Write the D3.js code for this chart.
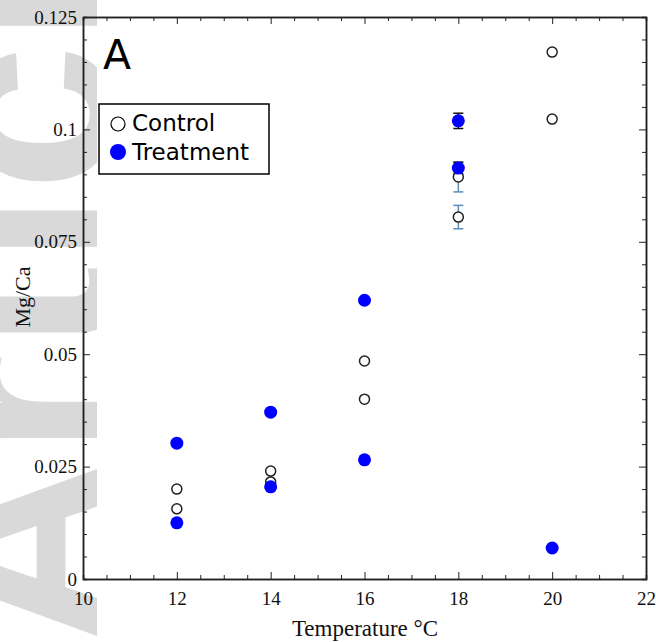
<!DOCTYPE html>
<html>
<head>
<meta charset="utf-8">
<script src="https://cdn.jsdelivr.net/npm/d3@7"></script>
<style>
  body { margin: 0; background: #fff; }
  svg { display: block; }
</style>
</head>
<body>
<svg id="chart" width="656" height="642"></svg>
<script>
// control series
const controlTemp = [12, 12, 14, 14, 16, 16, 18, 18, 20, 20];
const controlMgCa = [0.0200, 0.0156, 0.0240, 0.0216, 0.0485, 0.0400, 0.0894, 0.0805, 0.1172, 0.1023];
const controlErr  = [0, 0, 0, 0, 0, 0, 0.0033, 0.0026, 0, 0];

// treatment series
const treatTemp = [12, 12, 14, 14, 16, 16, 18, 18, 20];
const treatMgCa = [0.0302, 0.0125, 0.0371, 0.0205, 0.0620, 0.0265, 0.1019, 0.0914, 0.0069];
const treatErr  = [0, 0, 0, 0, 0, 0, 0.0017, 0.0013, 0];

const xTicks = [10, 12, 14, 16, 18, 20, 22];
const yTicks = [0, 0.025, 0.05, 0.075, 0.1, 0.125];

const svg = d3.select("#chart");

// watermark in the left margin, clipped like the page margin
svg.append("clipPath").attr("id", "wmclip")
  .append("rect").attr("x", 0).attr("y", 0).attr("width", 97).attr("height", 642);

svg.append("g").attr("clip-path", "url(#wmclip)")
  .append("text")
  .attr("transform", "translate(112,648) rotate(-90)")
  .attr("font-family", "Liberation Sans, Arial, sans-serif")
  .attr("font-weight", "bold")
  .attr("font-size", 265)
  .attr("fill", "#d9d9d9")
  .text("Article");

const x = d3.scaleLinear().domain([10, 22]).range([83, 646]);
const y = d3.scaleLinear().domain([0, 0.125]).range([579, 17]);

const minorX = d3.range(10, 22.01, 0.5).filter(v => v % 2 !== 0);
const minorY = d3.range(0, 0.1251, 0.005).filter(v => Math.abs(v / 0.025 - Math.round(v / 0.025)) > 1e-6);

const fmt = d => String(+d.toFixed(3));

function styleAxis(sel) {
  sel.selectAll(".domain").attr("stroke", "#222").attr("stroke-width", 1.5);
  sel.selectAll(".tick line").attr("stroke", "#222").attr("stroke-width", 1);
  sel.selectAll(".tick text")
    .attr("font-family", "Liberation Serif, Times New Roman, serif")
    .attr("font-size", 19)
    .attr("fill", "#111");
}

// bottom
svg.append("g").attr("transform", `translate(0,${y(0)})`)
  .call(d3.axisBottom(x).tickValues(minorX).tickSize(-4).tickFormat(""))
  .call(styleAxis);
svg.append("g").attr("transform", `translate(0,${y(0)})`)
  .call(d3.axisBottom(x).tickValues(xTicks).tickSizeInner(-7).tickSizeOuter(0).tickPadding(13).tickFormat(fmt))
  .call(styleAxis);

// top
svg.append("g").attr("transform", `translate(0,${y(0.125)})`)
  .call(d3.axisTop(x).tickValues(minorX).tickSize(-4).tickFormat(""))
  .call(styleAxis);
svg.append("g").attr("transform", `translate(0,${y(0.125)})`)
  .call(d3.axisTop(x).tickValues(xTicks).tickSizeInner(-7).tickSizeOuter(0).tickFormat(""))
  .call(styleAxis);

// left
svg.append("g").attr("transform", `translate(${x(10)},0)`)
  .call(d3.axisLeft(y).tickValues(minorY).tickSize(-4).tickFormat(""))
  .call(styleAxis);
svg.append("g").attr("transform", `translate(${x(10)},0)`)
  .call(d3.axisLeft(y).tickValues(yTicks).tickSizeInner(-7).tickSizeOuter(0).tickPadding(6).tickFormat(fmt))
  .call(styleAxis);

// right
svg.append("g").attr("transform", `translate(${x(22)},0)`)
  .call(d3.axisRight(y).tickValues(minorY).tickSize(-4).tickFormat(""))
  .call(styleAxis);
svg.append("g").attr("transform", `translate(${x(22)},0)`)
  .call(d3.axisRight(y).tickValues(yTicks).tickSizeInner(-7).tickSizeOuter(0).tickFormat(""))
  .call(styleAxis);

// axis titles
svg.append("text")
  .attr("x", 365).attr("y", 636)
  .attr("text-anchor", "middle")
  .attr("font-family", "Liberation Serif, Times New Roman, serif")
  .attr("font-size", 23)
  .attr("fill", "#111")
  .text("Temperature \u00B0C");

svg.append("text")
  .attr("transform", "translate(30,297) rotate(-90)")
  .attr("text-anchor", "middle")
  .attr("font-family", "Liberation Serif, Times New Roman, serif")
  .attr("font-size", 22)
  .attr("fill", "#111")
  .text("Mg/Ca");

const control = controlTemp.map((t, i) => ({ t, v: controlMgCa[i], e: controlErr[i] }));
const treat = treatTemp.map((t, i) => ({ t, v: treatMgCa[i], e: treatErr[i] }));

function errorBars(data, color) {
  const g = svg.append("g").attr("stroke", color).attr("stroke-width", 1.5);
  data.filter(d => d.e > 0).forEach(d => {
    g.append("line").attr("x1", x(d.t)).attr("x2", x(d.t)).attr("y1", y(d.v - d.e)).attr("y2", y(d.v + d.e));
    g.append("line").attr("x1", x(d.t) - 5).attr("x2", x(d.t) + 5).attr("y1", y(d.v - d.e)).attr("y2", y(d.v - d.e));
    g.append("line").attr("x1", x(d.t) - 5).attr("x2", x(d.t) + 5).attr("y1", y(d.v + d.e)).attr("y2", y(d.v + d.e));
  });
}

errorBars(control, "#5b8db8");
errorBars(treat, "#111");

svg.append("g").selectAll("circle")
  .data(control).join("circle")
  .attr("cx", d => x(d.t)).attr("cy", d => y(d.v)).attr("r", 5)
  .attr("fill", "#fff").attr("stroke", "#222").attr("stroke-width", 1.5);

svg.append("g").selectAll("circle")
  .data(treat).join("circle")
  .attr("cx", d => x(d.t)).attr("cy", d => y(d.v)).attr("r", 6.5)
  .attr("fill", "#0000ff");

// panel letter
svg.append("text")
  .attr("x", 103).attr("y", 69)
  .attr("font-family", "DejaVu Sans, Verdana, sans-serif")
  .attr("font-size", 41)
  .attr("fill", "#000")
  .text("A");

// legend
const lg = svg.append("g");
lg.append("rect")
  .attr("x", 99).attr("y", 104).attr("width", 170).attr("height", 70)
  .attr("fill", "#fff").attr("stroke", "#000").attr("stroke-width", 1.5);
lg.append("circle").attr("cx", 118).attr("cy", 124).attr("r", 7)
  .attr("fill", "#fff").attr("stroke", "#000").attr("stroke-width", 1.2);
lg.append("circle").attr("cx", 118).attr("cy", 152).attr("r", 8)
  .attr("fill", "#0000ff");
lg.append("text").attr("x", 132).attr("y", 131)
  .attr("font-family", "DejaVu Sans, Verdana, sans-serif").attr("font-size", 23)
  .text("Control");
lg.append("text").attr("x", 132).attr("y", 160)
  .attr("font-family", "DejaVu Sans, Verdana, sans-serif").attr("font-size", 23)
  .text("Treatment");
</script>
</body>
</html>
